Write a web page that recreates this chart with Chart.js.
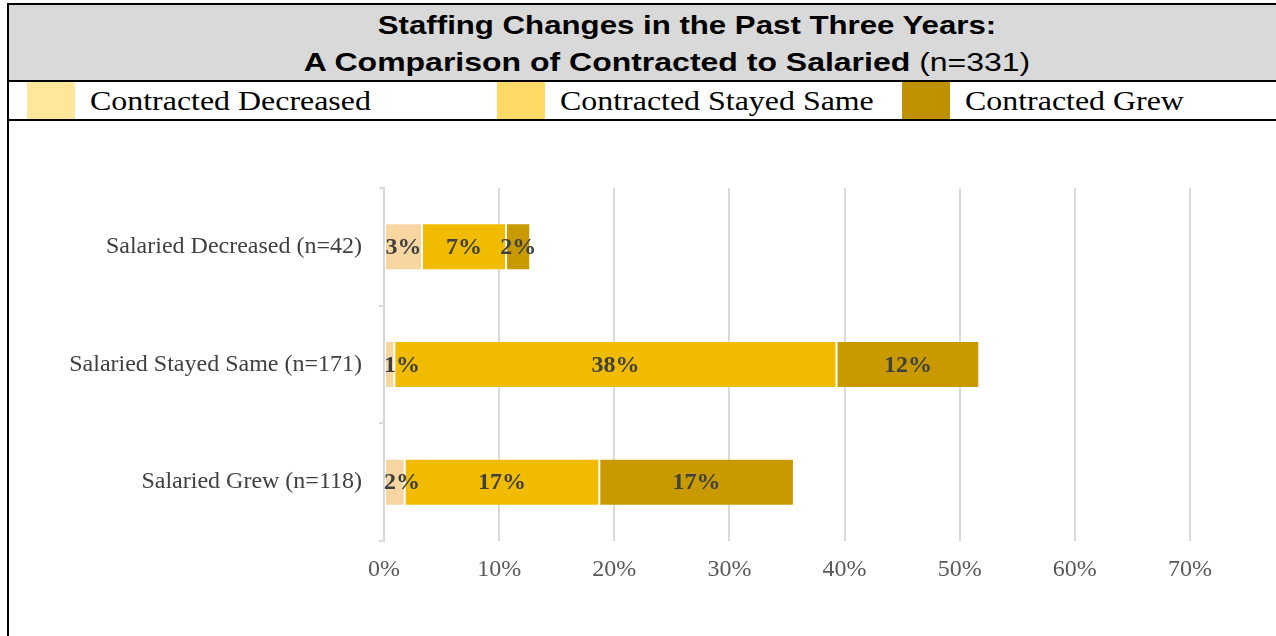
<!DOCTYPE html>
<html>
<head>
<meta charset="utf-8">
<script src="https://cdn.jsdelivr.net/npm/chart.js@4/dist/chart.umd.min.js"></script>
<style>
  html, body { margin: 0; padding: 0; background: #fff; width: 1276px; height: 636px; overflow: hidden; }
  #frame { position: absolute; left: 7px; top: 3px; width: 1300px; height: 700px;
           border-left: 2px solid #000; border-top: 2px solid #000; }
  #titleBand { position: absolute; left: 9px; top: 5px; width: 1300px; height: 75px;
               background: #d9d9d9; border-bottom: 2px solid #000; }
  .tline { position: absolute; width: 1000px; text-align: center; white-space: nowrap;
           font-family: "Liberation Sans", Arial, sans-serif; font-size: 26px; line-height: 37px;
           font-weight: bold; color: #000; transform-origin: 50% 50%; }
  #t1 { left: 187px; top: 7px; transform: scaleX(1.2); }
  #t2 { left: 167px; top: 44px; transform: scaleX(1.23); }
  .tline .n { font-weight: normal; }
  #legendRow { position: absolute; left: 9px; top: 82px; width: 1300px; height: 37px;
               border-bottom: 2px solid #000; background: #fff; }
  .item { position: absolute; top: 0; height: 37px; }
  .swatch { position: absolute; left: 0; top: 0; width: 48px; height: 37px; }
  .label { position: absolute; left: 63px; top: 0; line-height: 37px; white-space: nowrap;
           font-family: "Liberation Serif", "Times New Roman", serif; font-size: 28px; color: #000;
           transform: scaleX(1.14); transform-origin: 0 50%; }
  #chartBox { position: absolute; left: 9px; top: 122px; width: 1267px; height: 514px; }
</style>
</head>
<body>
<div id="frame"></div>
<div id="titleBand"></div>
<div id="t1" class="tline">Staffing Changes in the Past Three Years:</div>
<div id="t2" class="tline">A Comparison of Contracted to Salaried <span class="n">(n=331)</span></div>
<div id="legendRow"></div>
<div id="chartBox"><canvas id="chart"></canvas></div>
<script>
// Salaried groups (rows) and contracted outcomes (stacked segments), as % of all 331 respondents
const categories = ['Salaried Decreased (n=42)', 'Salaried Stayed Same (n=171)', 'Salaried Grew (n=118)'];
const seriesNames = ['Contracted Decreased', 'Contracted Stayed Same', 'Contracted Grew'];
const contractedDecreased = [3.3, 0.9, 1.8];
const contractedStayedSame = [7.3, 38.4, 16.9];
const contractedGrew = [2.1, 12.4, 16.9];
const xTicks = [0, 10, 20, 30, 40, 50, 60, 70];

const barColors = ['#f7d6a1', '#f1bc00', '#c89a00'];
const legendColors = ['#ffe699', '#ffd966', '#bf9000'];
const legendLefts = [18, 488, 893];

// Legend row
const legendRow = document.getElementById('legendRow');
seriesNames.forEach((name, i) => {
  const item = document.createElement('div');
  item.className = 'item';
  item.style.left = legendLefts[i] + 'px';
  const sw = document.createElement('div');
  sw.className = 'swatch';
  sw.style.background = legendColors[i];
  const lb = document.createElement('div');
  lb.className = 'label';
  lb.textContent = name;
  item.appendChild(sw);
  item.appendChild(lb);
  legendRow.appendChild(item);
});

// Percentage labels centred in each segment, kept inside the plot area
const segmentLabels = {
  id: 'segmentLabels',
  afterDatasetsDraw(chart) {
    const ctx = chart.ctx;
    const area = chart.chartArea;
    ctx.save();
    ctx.font = 'bold 24px "Liberation Serif", "Times New Roman", serif';
    ctx.fillStyle = '#404040';
    ctx.textBaseline = 'middle';
    ctx.textAlign = 'left';
    chart.data.datasets.forEach((ds, di) => {
      const meta = chart.getDatasetMeta(di);
      meta.data.forEach((bar, i) => {
        const text = Math.round(ds.data[i]) + '%';
        const w = ctx.measureText(text).width;
        let left = (bar.x + bar.base) / 2 - w / 2;
        if (left < area.left) left = area.left;
        ctx.fillText(text, left, bar.y + 1);
      });
    });
    ctx.restore();
  }
};

const datasets = [contractedDecreased, contractedStayedSame, contractedGrew].map((data, i) => ({
  label: seriesNames[i],
  data: data,
  backgroundColor: barColors[i],
  borderColor: 'rgba(255,255,255,0.15)',
  borderWidth: 1,
  borderSkipped: false,
  barPercentage: 0.4,
  categoryPercentage: 1.0
}));

new Chart(document.getElementById('chart'), {
  type: 'bar',
  data: { labels: categories, datasets: datasets },
  plugins: [segmentLabels],
  options: {
    indexAxis: 'y',
    responsive: true,
    maintainAspectRatio: false,
    animation: false,
    layout: { padding: { top: 66, right: 86, bottom: 0, left: 0 } },
    plugins: { legend: { display: false }, title: { display: false }, tooltip: { enabled: false } },
    scales: {
      x: {
        stacked: true,
        min: xTicks[0],
        max: xTicks[xTicks.length - 1],
        afterBuildTicks(scale) { scale.ticks = xTicks.map(v => ({ value: v })); },
        afterFit(scale) { scale.height = 95; },
        grid: { color: '#d9d9d9', lineWidth: 2, drawTicks: false },
        border: { display: false },
        ticks: {
          padding: 14,
          color: '#595959',
          font: { family: '"Liberation Serif", "Times New Roman", serif', size: 24 },
          callback: v => v + '%'
        }
      },
      y: {
        stacked: true,
        afterFit(scale) { scale.width = 375; },
        grid: { color: '#d9d9d9', lineWidth: 2, drawOnChartArea: false, tickLength: 5 },
        border: { display: true, color: '#d9d9d9', width: 2 },
        ticks: {
          padding: 17,
          color: '#404040',
          font: { family: '"Liberation Serif", "Times New Roman", serif', size: 24 }
        }
      }
    }
  }
});
</script>
</body>
</html>
